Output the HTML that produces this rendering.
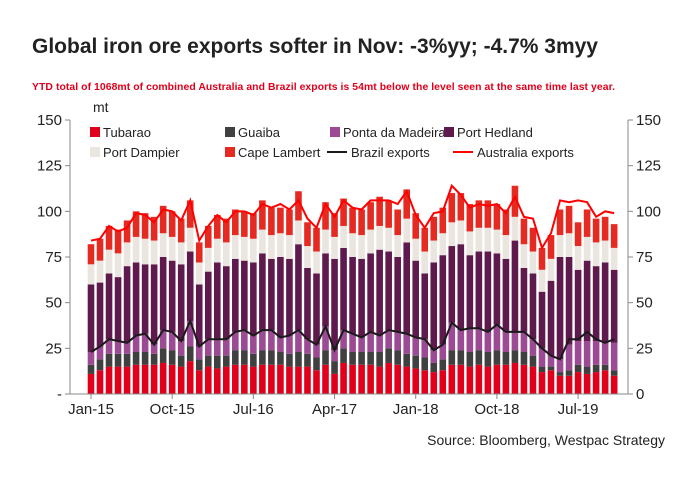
<!DOCTYPE html>
<html><head><meta charset="utf-8"><style>
body{margin:0;background:#fff;font-family:"Liberation Sans",sans-serif}
svg text{font-family:"Liberation Sans",sans-serif}
</style></head><body>
<svg id="c" width="700" height="495" xmlns="http://www.w3.org/2000/svg">
<text x="32" y="53" font-size="21" font-weight="bold" fill="#222">Global iron ore exports softer in Nov: -3%yy; -4.7% 3myy</text>
<text x="32" y="90" font-size="10.4" font-weight="bold" fill="#e0001b" textLength="583">YTD total of 1068mt of combined Australia and Brazil exports is 54mt below the level seen at the same time last year.</text>
<text x="93" y="112" font-size="14" fill="#222">mt</text>
<text x="665" y="445" font-size="14" fill="#222" text-anchor="end">Source: Bloomberg, Westpac Strategy</text>
<g id="grid"></g><g id="bars"></g><g id="lines"></g><g id="axes"></g><g id="legend"></g>
</svg>
<script>
const months=["Jan-15","Oct-15","Jul-16","Apr-17","Jan-18","Oct-18","Jul-19"];
const tickIdx=[0,9,18,27,36,45,54];
const yTicks=[0,25,50,75,100,125,150];
const yTickLabels=["-","25","50","75","100","125","150"];
const yTickLabelsR=["0","25","50","75","100","125","150"];
const tubarao=[11,13,15,15,15,16,16,16,17,16,15,18,13,15,14,15,16,16,15,16,16,16,15,15,15,13,16,11,17,16,16,16,15,17,16,15,14,13,12,13,16,16,15,16,15,16,16,17,16,15,12,13,10,10,12,11,12,13,10];
const guaiba=[5,6,7,7,7,7,7,6,8,8,6,8,6,6,7,6,8,8,7,8,8,7,7,8,7,7,8,7,8,7,7,7,8,8,8,7,7,7,5,6,8,8,8,8,8,8,7,7,7,6,3,2,2,3,4,4,4,3,3];
const pontaDaMadeira=[7,7,8,7,6,9,10,5,10,10,8,14,7,9,9,9,10,11,10,11,11,8,10,12,8,7,13,6,10,10,8,11,9,10,10,11,10,10,7,8,15,11,13,12,11,14,11,10,11,9,10,6,7,14,13,14,13,12,15];
const portHedland=[37,35,36,35,42,40,38,44,40,39,42,38,34,37,42,40,40,38,40,42,39,44,42,47,39,39,40,50,45,42,43,43,47,43,41,50,42,36,48,49,42,47,40,42,44,39,40,50,35,36,31,41,56,48,39,44,41,44,40];
const portDampier=[11,12,13,13,13,14,14,13,13,13,12,13,12,13,13,13,13,13,13,13,13,13,13,13,12,12,13,12,12,13,13,13,13,13,12,13,12,12,12,12,13,13,13,13,13,13,13,13,13,12,12,12,12,13,13,13,13,12,12];
const capeLambert=[11,12,13,13,12,14,14,13,15,14,13,15,11,12,13,13,14,14,14,16,15,14,14,16,13,13,15,13,15,14,14,15,16,15,14,16,14,13,13,14,16,15,15,15,15,14,14,17,14,13,12,13,14,15,13,15,13,13,13];
const brazilExports=[23,26,30,29,28,32,33,27,35,34,29,40,26,30,30,30,34,35,32,35,35,31,32,35,30,27,37,24,35,33,31,34,32,35,34,33,31,30,24,27,39,35,36,36,34,38,34,34,34,30,25,21,19,30,30,34,30,28,30];
const australiaExports=[84,85,92,89,91,99,98,94,101,100,95,106,84,92,98,94,100,100,98,104,102,104,101,106,96,91,104,97,106,102,101,106,106,106,104,111,98,91,99,100,114,109,102,104,103,104,99,108,97,96,80,88,106,105,106,105,97,100,99];

const NS="http://www.w3.org/2000/svg";
const L=70,R=628,T=120,B=394;
const y=v=>B-(v/150)*(B-T);
const x=i=>91+i*9.02;
function mk(tag,attrs,parent){const e=document.createElementNS(NS,tag);for(const k in attrs)e.setAttribute(k,attrs[k]);document.getElementById(parent).appendChild(e);return e;}
const series=[[tubarao,"#e0001b","tubarao"],[guaiba,"#404040","guaiba"],[pontaDaMadeira,"#9b4a93","ponta-da-madeira"],[portHedland,"#5f1a4d","port-hedland"],[portDampier,"#ebe5df","port-dampier"],[capeLambert,"#e52a22","cape-lambert"]];
for(let i=0;i<tubarao.length;i++){let acc=0;
 for(const [arr,col,nm] of series){const r=mk("rect",{x:x(i)-3.3,y:y(acc+arr[i]),width:6.6,height:y(acc)-y(acc+arr[i]),fill:col},"bars");
  
  
  acc+=arr[i];}}
function line(arr,col,nm){const p=mk("polyline",{points:arr.map((v,i)=>x(i)+","+y(v)).join(" "),fill:"none",stroke:col,"stroke-width":2},"lines");
 
 }
line(brazilExports,"#1a1a1a","brazil-exports-line");
line(australiaExports,"#ff0000","australia-exports-line");
mk("line",{x1:L,y1:T,x2:L,y2:B,stroke:"#888"},"axes");
mk("line",{x1:R,y1:T,x2:R,y2:B,stroke:"#888"},"axes");
mk("line",{x1:L,y1:B,x2:R,y2:B,stroke:"#888"},"axes");
yTicks.forEach((v,k)=>{
 mk("line",{x1:L-5,y1:y(v),x2:L,y2:y(v),stroke:"#888"},"axes");
 mk("line",{x1:R,y1:y(v),x2:R+5,y2:y(v),stroke:"#888"},"axes");
 const t=mk("text",{x:L-8,y:y(v)+5,"font-size":15,"text-anchor":"end",fill:"#222"},"axes");t.textContent=yTickLabels[k];
 
 
 const t2=mk("text",{x:R+8,y:y(v)+5,"font-size":15,fill:"#222"},"axes");t2.textContent=yTickLabelsR[k];
 
 });
tickIdx.forEach((m,k)=>{
 mk("line",{x1:x(m),y1:B,x2:x(m),y2:B+5,stroke:"#888"},"axes");
 const t=mk("text",{x:x(m),y:B+20,"font-size":15,"text-anchor":"middle",fill:"#222"},"axes");t.textContent=months[k];
 
 });
const leg=[["Tubarao","#e0001b",90,132,0],["Guaiba","#404040",225,132,0],["Ponta da Madeira","#9b4a93",330,132,0],["Port Hedland","#5f1a4d",444,132,0],["Port Dampier","#ebe5df",90,152,0],["Cape Lambert","#e52a22",225,152,0],["Brazil exports","#1a1a1a",327,152,1],["Australia exports","#ff0000",453,152,1]];
leg.forEach(([n,c,lx,ly,isL])=>{
 if(isL)mk("line",{x1:lx,y1:ly,x2:lx+20,y2:ly,stroke:c,"stroke-width":2},"legend");
 else mk("rect",{x:lx,y:ly-5,width:10,height:10,fill:c},"legend");
 const t=mk("text",{x:lx+(isL?24:13),y:ly+5,"font-size":13,fill:"#222"},"legend");t.textContent=n;
 
 });
</script>
</body></html>
